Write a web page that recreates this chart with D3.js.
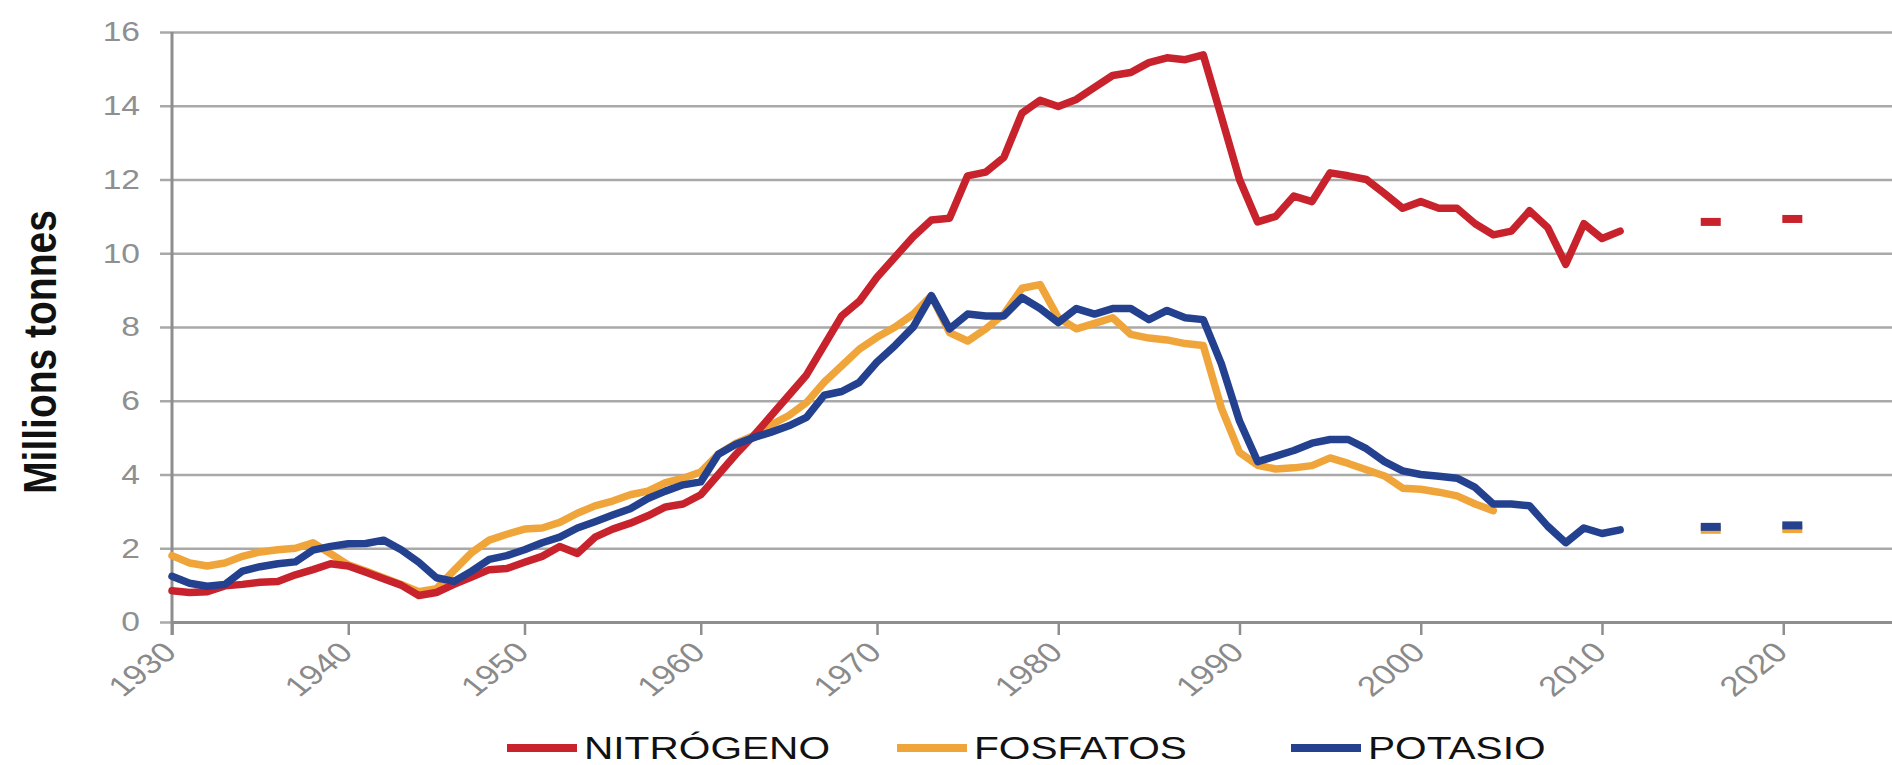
<!DOCTYPE html>
<html>
<head>
<meta charset="utf-8">
<script src="https://cdn.jsdelivr.net/npm/d3@7"></script>
<style>
  body { margin: 0; background: #fff; }
  text { font-family: "Liberation Sans", Arial, sans-serif; }
</style>
</head>
<body>
<div id="chart"></div>
<script>
// annual series, 1930 onwards
var years = d3.range(1930, 2012);
var nitrogeno = [
  0.85, 0.8, 0.82, 0.98, 1.02, 1.08, 1.1, 1.28, 1.42, 1.58,
  1.52, 1.35, 1.17, 1.0, 0.72, 0.8, 1.02, 1.22, 1.42, 1.45,
  1.62, 1.78, 2.05, 1.86, 2.3, 2.52, 2.68, 2.88, 3.12, 3.2,
  3.45, 4.0, 4.55, 5.05, 5.6, 6.15, 6.7, 7.5, 8.3, 8.7,
  9.35, 9.9, 10.45, 10.9, 10.95, 12.1, 12.2, 12.6, 13.8, 14.15,
  13.98, 14.17, 14.5, 14.82, 14.9, 15.17, 15.3, 15.25, 15.38, 13.7,
  12.0, 10.85, 11.0, 11.55, 11.4, 12.18, 12.1, 12.0, 11.62, 11.22,
  11.4, 11.22, 11.22, 10.8, 10.5, 10.6, 11.15, 10.7, 9.7, 10.8,
  10.4, 10.6
];
// fosfatos stops in 2004
var fosfatos = [
  1.8, 1.6, 1.52, 1.6, 1.78, 1.9, 1.96, 2.0, 2.15, 1.85,
  1.55, 1.38, 1.2, 1.02, 0.82, 0.9, 1.4, 1.88, 2.22, 2.38,
  2.52, 2.55, 2.7, 2.95, 3.15, 3.28, 3.45, 3.55, 3.78, 3.9,
  4.07, 4.55, 4.85, 5.05, 5.35, 5.6, 5.95, 6.5, 6.95, 7.4,
  7.72, 8.0, 8.35, 8.85, 7.85, 7.62, 7.95, 8.35, 9.05, 9.15,
  8.25, 7.95, 8.1, 8.25, 7.8, 7.7, 7.65, 7.55, 7.5, 5.8,
  4.6, 4.25, 4.15, 4.18, 4.24, 4.45, 4.3, 4.13, 3.96, 3.63,
  3.6, 3.52, 3.42, 3.2, 3.02
];
var potasio = [
  1.24, 1.05, 0.97, 1.02, 1.38, 1.5, 1.58, 1.63, 1.95, 2.05,
  2.12, 2.13, 2.22, 1.96, 1.62, 1.2, 1.1, 1.38, 1.7, 1.8,
  1.96, 2.15, 2.3, 2.55, 2.72, 2.9, 3.07, 3.35, 3.55, 3.72,
  3.8, 4.55, 4.82, 5.0, 5.15, 5.32, 5.55, 6.15, 6.25, 6.5,
  7.05, 7.5, 8.0, 8.85, 7.95, 8.35, 8.3, 8.3, 8.8, 8.5,
  8.12, 8.5, 8.35, 8.5, 8.5, 8.2, 8.45, 8.25, 8.2, 7.0,
  5.45, 4.35, 4.5, 4.65, 4.85, 4.95, 4.95, 4.7, 4.35, 4.1,
  4.0, 3.95, 3.9, 3.65, 3.2, 3.2, 3.15, 2.6, 2.15, 2.55,
  2.4, 2.5
];

// projected values shown as short dashes
var projYears = [2016, 2020.5];
var projNitrogeno = [10.85, 10.93];
var projFosfatos = [2.5, 2.52];
var projPotasio = [2.58, 2.62];

var seriesNames = ["NITRÓGENO", "FOSFATOS", "POTASIO"];
var colors = ["#c8222c", "#f0a53a", "#23418f"];
var xTicks = [1930, 1940, 1950, 1960, 1970, 1980, 1990, 2000, 2010, 2020];
var yTicks = [0, 2, 4, 6, 8, 10, 12, 14, 16];

var W = 1892, H = 765;

var svg = d3.select("#chart")
  .append("svg")
    .attr("width", W)
    .attr("height", H);

// the source picture is a bit stretched towards the right, so the scale has a middle knot
var x = d3.scaleLinear()
  .domain([1930, 1970, 2026])
  .range([172, 877, W]);

var y = d3.scaleLinear()
  .domain([0, 16])
  .range([622, 32]);

// horizontal grid + y labels
var yAxis = svg.append("g")
  .attr("transform", "translate(" + x(1930) + ",0)")
  .call(d3.axisLeft(y)
    .tickValues(yTicks)
    .tickSizeInner(-(W - x(1930)))
    .tickSizeOuter(0)
    .tickPadding(32));
yAxis.select(".domain").remove();
yAxis.selectAll(".tick line")
  .attr("x1", -12)
  .attr("stroke", "#a9a9a9")
  .attr("stroke-width", 2.5);
yAxis.selectAll(".tick text")
  .attr("x", 0)
  .attr("transform", "translate(-32,0) scale(1.2,1)")
  .attr("fill", "#8f8f8f")
  .style("font-size", "28px");

// x axis
var xAxis = svg.append("g")
  .attr("transform", "translate(0," + y(0) + ")")
  .call(d3.axisBottom(x)
    .tickValues(xTicks)
    .tickFormat(d3.format("d"))
    .tickSizeInner(13)
    .tickSizeOuter(0));
xAxis.select(".domain")
  .attr("stroke", "#8e8e8e")
  .attr("stroke-width", 3);
xAxis.selectAll(".tick line")
  .attr("stroke", "#8e8e8e")
  .attr("stroke-width", 2.5);
xAxis.selectAll(".tick text")
  .attr("x", 0)
  .attr("y", 0)
  .attr("dy", "0.35em")
  .attr("transform", "translate(-3,25) scale(1.25,1) rotate(-45)")
  .style("text-anchor", "end")
  .style("font-size", "28px")
  .attr("fill", "#8a8a8a");

// y axis line
svg.append("line")
  .attr("x1", x(1930)).attr("x2", x(1930))
  .attr("y1", y(16)).attr("y2", y(0) + 13)
  .attr("stroke", "#8e8e8e")
  .attr("stroke-width", 3);

// y-label
svg.append("text")
  .attr("transform", "translate(40," + ((y(0) + y(16)) / 2 + 25) + ") scale(1.2,1) rotate(-90)")
  .attr("dy", "0.35em")
  .style("text-anchor", "middle")
  .style("font-weight", "bold")
  .style("font-size", "39px")
  .attr("fill", "#111")
  .text("Millions tonnes");

// lines
var line = d3.line()
  .x(function(d) { return x(d[0]); })
  .y(function(d) { return y(d[1]); });

function pairs(vals) {
  return vals.map(function(v, i) { return [years[i], v]; });
}

var series = [
  { name: seriesNames[1], color: colors[1], values: pairs(fosfatos), proj: projFosfatos },
  { name: seriesNames[0], color: colors[0], values: pairs(nitrogeno), proj: projNitrogeno },
  { name: seriesNames[2], color: colors[2], values: pairs(potasio), proj: projPotasio }
];

series.forEach(function(s) {
  svg.append("path")
    .datum(s.values)
    .attr("fill", "none")
    .attr("stroke", s.color)
    .attr("stroke-width", 7.5)
    .attr("stroke-linejoin", "round")
    .attr("stroke-linecap", "round")
    .attr("d", line);

  svg.selectAll(null)
    .data(s.proj)
    .enter()
    .append("rect")
      .attr("x", function(d, i) { return x(projYears[i]) - 10; })
      .attr("y", function(d) { return y(d) - 4; })
      .attr("width", 20)
      .attr("height", 8)
      .attr("fill", s.color);
});

// legend
var legendX = [507, 897, 1291];
var legend = svg.selectAll(".legend")
  .data(seriesNames)
  .enter()
  .append("g")
    .attr("class", "legend")
    .attr("transform", function(d, i) { return "translate(" + legendX[i] + ",0)"; });

legend.append("line")
  .attr("x1", 0).attr("x2", 70)
  .attr("y1", 748).attr("y2", 748)
  .attr("stroke", function(d, i) { return colors[i]; })
  .attr("stroke-width", 8);

legend.append("text")
  .attr("transform", "translate(77,759) scale(1.27,1)")
  .style("font-size", "32px")
  .attr("fill", "#111")
  .text(function(d) { return d; });
</script>
</body>
</html>
